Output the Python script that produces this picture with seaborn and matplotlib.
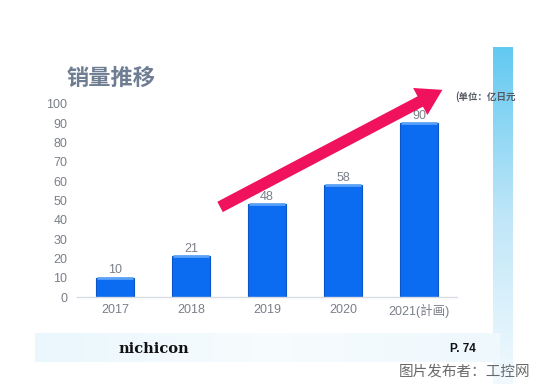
import numpy as np
import pandas as pd
import matplotlib
matplotlib.use("Agg")
import matplotlib.pyplot as plt
import seaborn as sns

# chart data
years = ["2017", "2018", "2019", "2020", "2021(計画)"]
sales = [10, 21, 48, 58, 90]
y_ticks = list(range(0, 101, 10))
title = "销量推移"
unit_note = "(单位：亿日元"

df = pd.DataFrame({"year": years, "sales": sales})

sns.set_theme(style="white")
plt.rcParams["font.family"] = ["Liberation Sans", "Noto Sans CJK SC", "DejaVu Sans"]

fig = plt.figure(figsize=(5.38, 3.84), dpi=100)
fig.patch.set_facecolor("white")

# decorative light blue bands (background)
band = fig.add_axes([493 / 538, 0, 20 / 538, 1 - 47 / 384], zorder=0)
grad = np.linspace(0, 1, 256).reshape(-1, 1)
band.imshow(grad, aspect="auto", cmap=matplotlib.colors.LinearSegmentedColormap.from_list(
    "b", ["#62c9f1", "#bfe6f8", "#f2fafe"]), extent=[0, 1, 0, 1], origin="upper")
band.axis("off")

foot = fig.add_axes([35 / 538, 1 - 362 / 384, 465 / 538, 29 / 384], zorder=0)
hgrad = np.linspace(0, 1, 256).reshape(1, -1)
foot.imshow(hgrad, aspect="auto", cmap=matplotlib.colors.LinearSegmentedColormap.from_list(
    "f", ["#eaf7fd", "#f7fcfe", "#eef8fd"]), extent=[0, 1, 0, 1])
foot.axis("off")

ax = fig.add_axes([77 / 538, 1 - 297 / 384, 380 / 538, 193 / 384], zorder=2)
ax.patch.set_alpha(0)

sns.barplot(data=df, x="year", y="sales", color="#0b6cf2", width=0.5,
            edgecolor="#0a55c8", linewidth=0.8, saturation=1, ax=ax)
# lighter strip on top of each bar
ax.hlines(sales, np.arange(len(years)) - 0.24, np.arange(len(years)) + 0.24,
          color="#5aa2f7", linewidth=2, zorder=3)
ax.bar_label(ax.containers[0], labels=[str(v) for v in sales], padding=1,
             fontsize=9, color="#7a7f88")

ax.set_xlim(-0.5, 4.5)
ax.set_ylim(0, 100)
ax.set_yticks(y_ticks)
ax.set_xlabel("")
ax.set_ylabel("")
ax.tick_params(axis="both", length=0, labelsize=9, colors="#7a7f88")
ax.tick_params(axis="y", pad=7)
ax.tick_params(axis="x", pad=5)
for s in ["top", "right", "left"]:
    ax.spines[s].set_visible(False)
ax.spines["bottom"].set_color("#d9dde3")
ax.spines["bottom"].set_linewidth(1)

# rising trend arrow
ax.annotate("", xy=(4.34, 108), xytext=(1.35, 46),
            arrowprops=dict(arrowstyle="simple,head_length=0.9,head_width=1.1,tail_width=0.42",
                            mutation_scale=20, color="#f0125d", lw=0),
            annotation_clip=False, zorder=4)

fig.text(67 / 538, 1 - 78 / 384, title, fontsize=16, fontweight="bold",
         family="Noto Sans CJK SC", color="#6f7d92", va="center", ha="left")
fig.text(455 / 538, 1 - 97 / 384, unit_note, fontsize=6.8, fontweight="bold",
         family="Noto Sans CJK SC", color="#555a62", va="center", ha="left", zorder=5)

fig.text(118 / 538, 1 - 349 / 384, "nichicon", fontsize=10.5, fontweight="bold",
         family="DejaVu Serif", color="#111111", va="center", ha="left")
fig.text(450 / 538, 1 - 349 / 384, "P. 74", fontsize=8.5, fontweight="bold",
         family="Liberation Sans", color="#111111", va="center", ha="left")
fig.text(530 / 538, 1 - 372 / 384, "图片发布者：工控网", fontsize=10.5,
         family="Noto Sans CJK SC", color="#6a6a6a", va="center", ha="right")

fig.savefig("out.png", dpi=100, facecolor="white")
